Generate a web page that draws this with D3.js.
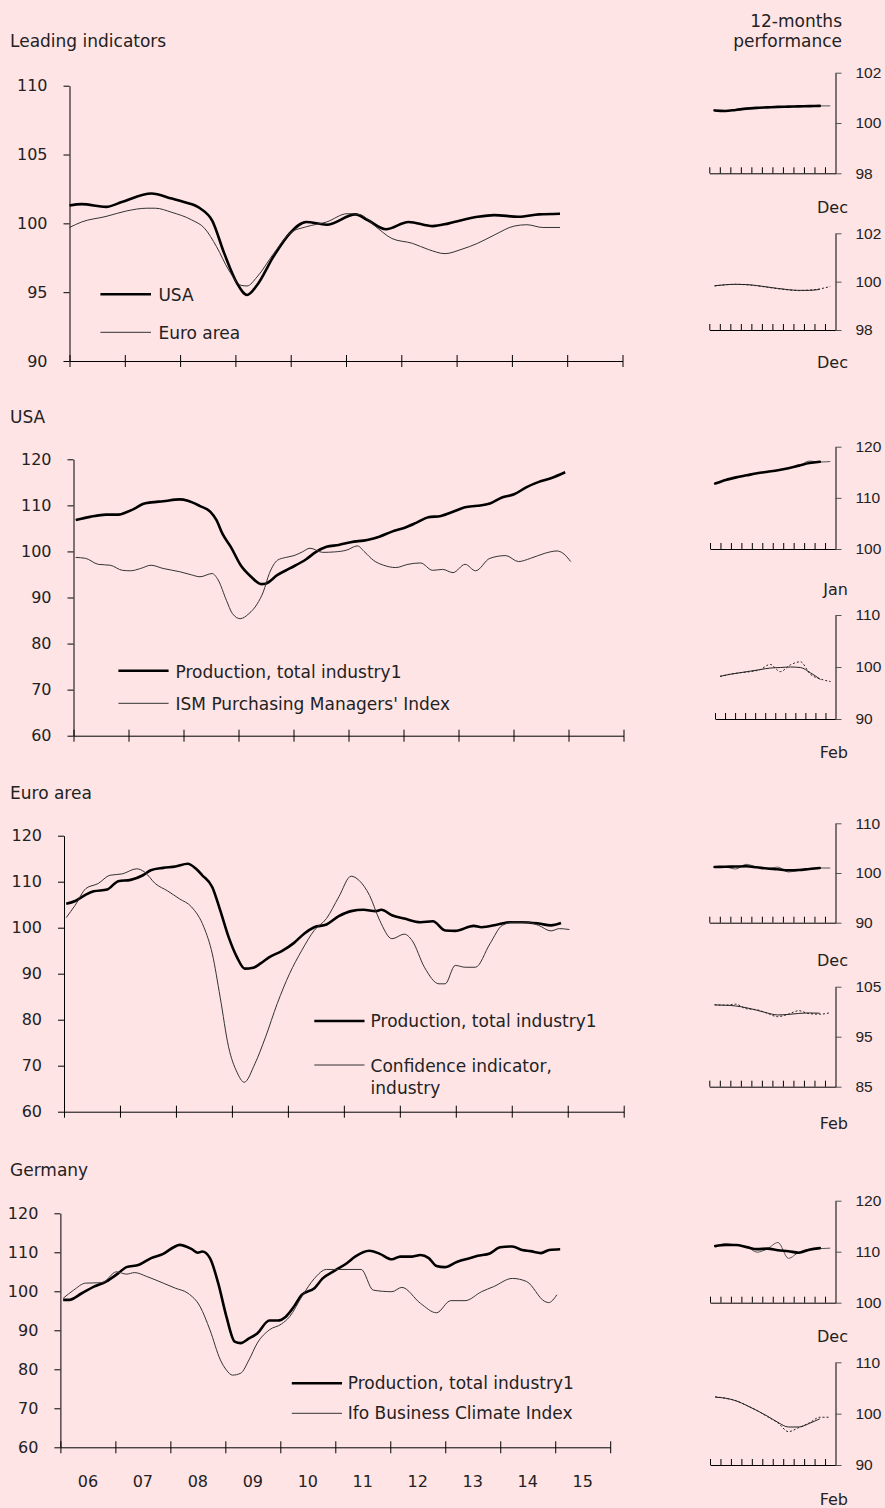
<!DOCTYPE html>
<html><head><meta charset="utf-8">
<script src="https://cdn.jsdelivr.net/npm/d3@7"></script>
<style>
html,body{margin:0;padding:0;background:#ffe4e6;}
svg{display:block;font-family:"DejaVu Sans",sans-serif;}
</style></head><body>
<svg id="chart" width="885" height="1508"></svg>
<script>
// ---------------- DATA (decimal year, index value) ----------------
const yearLabels = ["06","07","08","09","10","11","12","13","14","15"];
const yearTicks = [2006,2007,2008,2009,2010,2011,2012,2013,2014,2015,2016];

const leadUSA = [[2006.00,101.3],[2006.22,101.4],[2006.66,101.2],[2006.96,101.57],[2007.48,102.17],[2007.85,101.8],[2008.07,101.55],[2008.36,101.1],[2008.58,100.2],[2008.80,97.8],[2009.03,95.65],[2009.21,94.8],[2009.39,95.5],[2009.69,97.6],[2009.99,99.3],[2010.28,100.1],[2010.65,99.9],[2011.17,100.65],[2011.39,100.24],[2011.72,99.57],[2012.13,100.1],[2012.57,99.8],[2012.86,100.0],[2013.38,100.48],[2013.68,100.6],[2014.12,100.48],[2014.49,100.65],[2014.87,100.7]];
const leadEuro = [[2006.00,99.7],[2006.22,100.1],[2006.66,100.5],[2007.03,100.9],[2007.40,101.1],[2007.55,101.1],[2007.85,100.8],[2008.21,100.25],[2008.44,99.65],[2008.66,98.3],[2008.88,96.6],[2009.10,95.5],[2009.21,95.45],[2009.39,96.1],[2009.69,97.8],[2009.99,99.3],[2010.28,99.75],[2010.65,100.1],[2011.02,100.7],[2011.24,100.65],[2011.54,99.75],[2011.83,98.9],[2012.20,98.55],[2012.49,98.1],[2012.79,97.8],[2013.08,98.1],[2013.38,98.55],[2013.68,99.15],[2014.04,99.8],[2014.27,99.9],[2014.56,99.7],[2014.87,99.7]];

const usaProd = [[2006.04,106.8],[2006.30,107.5],[2006.59,108.0],[2006.82,108.0],[2006.96,108.5],[2007.11,109.3],[2007.26,110.3],[2007.41,110.65],[2007.63,110.9],[2007.93,111.3],[2008.08,111.0],[2008.30,109.85],[2008.49,108.6],[2008.60,106.8],[2008.71,103.8],[2008.86,101.0],[2009.04,97.0],[2009.23,94.5],[2009.41,92.9],[2009.49,93.0],[2009.71,94.9],[2009.93,96.3],[2010.23,98.3],[2010.41,99.9],[2010.60,101.0],[2010.82,101.4],[2011.04,102.0],[2011.34,102.5],[2011.56,103.2],[2011.79,104.3],[2012.01,105.1],[2012.23,106.2],[2012.45,107.4],[2012.68,107.7],[2012.90,108.6],[2013.12,109.6],[2013.34,109.9],[2013.57,110.4],[2013.79,111.7],[2014.01,112.4],[2014.23,113.9],[2014.46,115.1],[2014.68,115.9],[2014.94,117.2]];
const usaISM = [[2006.04,98.7],[2006.22,98.5],[2006.45,97.2],[2006.67,97.0],[2006.89,95.9],[2007.04,95.8],[2007.22,96.3],[2007.41,97.0],[2007.63,96.3],[2007.93,95.6],[2008.15,94.9],[2008.30,94.5],[2008.52,95.2],[2008.63,93.8],[2008.78,89.4],[2008.89,86.5],[2009.03,85.4],[2009.19,86.5],[2009.34,88.6],[2009.45,91.2],[2009.56,95.2],[2009.71,98.1],[2009.86,98.7],[2010.01,99.1],[2010.16,99.9],[2010.30,100.7],[2010.53,99.8],[2010.75,99.9],[2010.97,100.3],[2011.16,101.2],[2011.30,99.8],[2011.45,98.1],[2011.64,97.0],[2011.86,96.5],[2012.08,97.2],[2012.31,97.5],[2012.53,95.9],[2012.71,96.1],[2012.90,95.4],[2013.12,97.2],[2013.31,95.8],[2013.57,98.5],[2013.86,99.1],[2014.09,97.8],[2014.31,98.5],[2014.57,99.6],[2014.79,100.1],[2014.90,99.6],[2015.04,97.8]];

const euroProd = [[2006.04,105.2],[2006.20,105.8],[2006.39,107.2],[2006.53,107.9],[2006.77,108.3],[2006.97,110.1],[2007.19,110.4],[2007.41,111.4],[2007.55,112.5],[2007.77,113.0],[2007.99,113.3],[2008.21,113.9],[2008.36,112.8],[2008.47,111.4],[2008.65,108.8],[2008.79,103.8],[2008.94,98.0],[2009.09,93.6],[2009.23,91.1],[2009.38,91.3],[2009.52,92.3],[2009.67,93.6],[2009.89,94.9],[2010.11,96.7],[2010.29,98.7],[2010.47,100.1],[2010.69,100.7],[2010.91,102.5],[2011.13,103.6],[2011.35,103.9],[2011.57,103.6],[2011.67,103.9],[2011.86,102.7],[2012.08,102.0],[2012.37,101.2],[2012.59,101.4],[2012.81,99.4],[2012.99,99.3],[2013.32,100.4],[2013.46,100.1],[2013.75,100.7],[2013.97,101.2],[2014.19,101.2],[2014.48,100.9],[2014.70,100.5],[2014.88,101.0]];
const euroConf = [[2006.04,102.2],[2006.20,104.9],[2006.39,108.5],[2006.61,109.6],[2006.82,111.4],[2007.04,111.7],[2007.30,112.8],[2007.44,112.1],[2007.63,109.6],[2007.85,108.0],[2008.06,106.3],[2008.28,104.5],[2008.50,100.1],[2008.65,94.3],[2008.79,84.9],[2008.94,74.1],[2009.09,68.6],[2009.22,66.4],[2009.41,70.4],[2009.60,76.2],[2009.81,83.5],[2010.03,90.0],[2010.25,95.1],[2010.47,99.4],[2010.69,102.0],[2010.91,106.7],[2011.13,111.2],[2011.27,110.3],[2011.46,107.0],[2011.64,101.6],[2011.86,97.6],[2012.08,98.6],[2012.22,97.2],[2012.44,91.4],[2012.70,87.8],[2012.81,87.8],[2012.99,91.8],[2013.17,91.4],[2013.35,91.4],[2013.61,96.5],[2013.83,100.5],[2014.05,101.2],[2014.26,101.2],[2014.48,100.5],[2014.70,99.3],[2014.85,99.8],[2015.03,99.6]];

const gerProd = [[2006.05,97.8],[2006.16,97.8],[2006.39,99.5],[2006.61,101.2],[2006.83,102.5],[2007.05,104.6],[2007.20,106.2],[2007.43,106.8],[2007.65,108.5],[2007.87,109.6],[2008.06,111.3],[2008.17,111.9],[2008.39,110.8],[2008.50,109.9],[2008.58,110.2],[2008.72,108.5],[2008.87,102.1],[2009.02,93.5],[2009.17,87.1],[2009.28,86.7],[2009.43,87.9],[2009.58,89.2],[2009.80,92.5],[2009.95,92.5],[2010.10,93.5],[2010.25,96.1],[2010.39,99.1],[2010.62,100.8],[2010.77,103.3],[2010.99,105.3],[2011.21,107.2],[2011.36,108.9],[2011.62,110.4],[2011.81,109.6],[2012.03,108.2],[2012.18,108.9],[2012.40,108.9],[2012.55,109.3],[2012.70,108.5],[2012.84,106.5],[2012.99,106.2],[2013.22,107.6],[2013.44,108.5],[2013.59,109.1],[2013.81,109.7],[2014.00,111.3],[2014.22,111.5],[2014.40,110.6],[2014.55,110.3],[2014.74,109.8],[2014.89,110.6],[2015.09,110.8]];
const gerIfo = [[2006.05,98.2],[2006.24,100.3],[2006.46,102.1],[2006.76,102.2],[2007.02,105.0],[2007.20,104.4],[2007.35,104.8],[2007.57,103.8],[2007.87,102.1],[2008.09,100.8],[2008.32,99.5],[2008.54,96.1],[2008.72,90.1],[2008.91,82.4],[2009.02,79.8],[2009.13,78.5],[2009.28,79.0],[2009.43,82.4],[2009.58,86.7],[2009.80,90.1],[2010.02,91.6],[2010.17,93.5],[2010.39,98.6],[2010.62,103.3],[2010.84,105.6],[2011.47,105.6],[2011.69,100.3],[2012.03,99.9],[2012.21,101.0],[2012.55,96.9],[2012.84,94.5],[2013.10,97.6],[2013.36,97.6],[2013.66,99.9],[2013.88,101.2],[2014.22,103.3],[2014.48,102.5],[2014.81,97.4],[2014.88,97.1],[2015.03,99.1]];

// 12-months performance panels (12 monthly values; trend has 11)
const sp1Trend  = [100.50,100.48,100.52,100.57,100.60,100.62,100.64,100.65,100.66,100.67,100.68];
const sp1Actual = [100.50,100.48,100.52,100.57,100.60,100.62,100.64,100.65,100.66,100.67,100.68,100.68];
const sp2Trend  = [99.83,99.87,99.89,99.88,99.84,99.78,99.72,99.67,99.64,99.64,99.68];
const sp2Actual = [99.82,99.87,99.89,99.87,99.83,99.77,99.71,99.66,99.63,99.65,99.70,99.80];
const sp3Trend  = [112.8,113.5,114.0,114.4,114.8,115.1,115.4,115.8,116.3,116.8,117.05];
const sp3Actual = [112.8,113.5,114.0,114.4,114.8,115.1,115.4,115.8,116.2,117.2,117.0,117.1];
const sp4Trend  = [98.2,98.6,98.9,99.2,99.5,99.8,99.9,100.0,99.9,98.9,97.6];
const sp4Actual = [98.2,98.6,98.9,99.1,99.5,100.5,99.1,100.4,101.0,98.6,97.7,97.2];
const sp5Trend  = [101.2,101.25,101.3,101.35,101.15,100.9,100.75,100.55,100.6,100.8,101.0];
const sp5Actual = [101.2,101.2,100.8,101.75,101.2,100.9,101.2,100.2,100.5,100.9,101.0,101.0];
const sp6Trend  = [101.35,101.3,101.15,100.8,100.3,99.75,99.35,99.45,99.65,99.75,99.7];
const sp6Actual = [101.4,101.3,101.5,100.6,100.4,99.7,99.0,99.5,100.2,99.6,99.5,99.8];
const sp7Trend  = [111.1,111.3,111.3,110.9,110.5,110.6,110.3,110.1,109.8,110.4,110.7];
const sp7Actual = [111.0,111.6,111.3,111.0,109.9,110.6,111.8,108.7,109.9,110.5,110.6,110.7];
const sp8Trend  = [103.2,103.0,102.5,101.6,100.6,99.5,98.3,97.4,97.4,98.1,99.0];
const sp8Actual = [103.3,103.0,102.5,101.6,100.6,99.4,98.2,96.5,97.3,98.2,99.3,99.3];

// ---------------- DRAWING ----------------
const BG = "#ffe4e6", TXT = "#222";
const svg = d3.select("#chart");
svg.append("rect").attr("width",885).attr("height",1508).attr("fill",BG);

function styleAxis(a, fs, fam){
  a.attr("font-family",fam||"DejaVu Sans, sans-serif").attr("font-size",fs);
  a.selectAll("path.domain").attr("stroke","#000").attr("stroke-width",1);
  a.selectAll(".tick line").attr("stroke","#000").attr("stroke-width",1);
  a.selectAll(".tick text").attr("fill",TXT);
}

function text(x,y,s,opt={}){
  return svg.append("text").attr("x",x).attr("y",y).attr("fill",TXT)
    .attr("font-size",opt.size||17).attr("text-anchor",opt.anchor||"start").text(s);
}

function mainPanel(c){
  const x = d3.scaleLinear().domain([2006,2016]).range([c.x0,c.x1]);
  const y = d3.scaleLinear().domain(c.domain).range([c.yBot,c.yTop]);
  text(10,c.titleY,c.title);
  const ya = svg.append("g").attr("transform",`translate(${c.x0},0)`)
    .call(d3.axisLeft(y).tickValues(c.ticks).tickSize(6).tickSizeOuter(0).tickPadding(16).tickFormat(d3.format("d")));
  styleAxis(ya,16);
  const xa = svg.append("g").attr("transform",`translate(0,${c.yBot})`)
    .call(d3.axisBottom(x).tickValues(yearTicks).tickSize(6).tickSizeOuter(0).tickFormat(""));
  styleAxis(xa,16);
  xa.selectAll(".tick line").attr("y1",-6).attr("y2",6);
  const line = d3.line().x(d=>x(d[0])).y(d=>y(d[1])).curve(d3.curveMonotoneX);
  c.series.forEach(s=>{
    svg.append("path").datum(s.data).attr("d",line).attr("fill","none")
      .attr("stroke",s.thick?"#000":"#333").attr("stroke-width",s.thick?2.6:1)
      .attr("stroke-linejoin","round");
  });
  c.legend.forEach((l,i)=>{
    svg.append("line").attr("x1",c.lx0).attr("x2",c.lx1).attr("y1",l.ly).attr("y2",l.ly)
      .attr("stroke",c.series[i].thick?"#000":"#333").attr("stroke-width",c.series[i].thick?2.6:1);
    l.lines.forEach((t,j)=>text(c.tx,l.ty+j*22.3,t));
  });
  if(c.yearLabels){
    yearLabels.forEach((lab,i)=>text(x(yearTicks[i]+0.5),c.yearY,lab,{anchor:"middle",size:16}));
  }
}

mainPanel({title:"Leading indicators",titleY:47,x0:69.5,x1:622.5,yTop:85.7,yBot:361,domain:[90,110],ticks:[90,95,100,105,110],
  series:[{data:leadUSA,thick:true},{data:leadEuro}],
  lx0:100.4,lx1:151,tx:158.4,legend:[{ly:294.3,ty:301,lines:["USA"]},{ly:332.3,ty:339.3,lines:["Euro area"]}]});
mainPanel({title:"USA",titleY:422.7,x0:73.5,x1:623.5,yTop:459.3,yBot:735.7,domain:[60,120],ticks:[60,70,80,90,100,110,120],
  series:[{data:usaProd,thick:true},{data:usaISM}],
  lx0:118.4,lx1:168.6,tx:175.5,legend:[{ly:670.7,ty:677.7,lines:["Production, total industry1"]},{ly:703.3,ty:710,lines:["ISM Purchasing Managers' Index"]}]});
mainPanel({title:"Euro area",titleY:799,x0:64,x1:623.7,yTop:835.7,yBot:1111.7,domain:[60,120],ticks:[60,70,80,90,100,110,120],
  series:[{data:euroProd,thick:true},{data:euroConf}],
  lx0:314.3,lx1:364.5,tx:370.6,legend:[{ly:1021,ty:1027.3,lines:["Production, total industry1"]},{ly:1065,ty:1071.7,lines:["Confidence indicator,","industry"]}]});
mainPanel({title:"Germany",titleY:1176,x0:60.4,x1:610.2,yTop:1213.3,yBot:1447.3,domain:[60,120],ticks:[60,70,80,90,100,110,120],
  series:[{data:gerProd,thick:true},{data:gerIfo}],
  lx0:291.8,lx1:342,tx:347.8,legend:[{ly:1383.3,ty:1389.3,lines:["Production, total industry1"]},{ly:1413.3,ty:1419.3,lines:["Ifo Business Climate Index"]}],
  yearLabels:true,yearY:1487});

// header of right column
text(842,26.5,"12-months",{anchor:"end"});
text(842,47,"performance",{anchor:"end"});

function smallPanel(c){
  const xR = 835.5;
  const x = d3.scaleLinear().domain([0,12]).range([c.x0,xR]);
  const y = d3.scaleLinear().domain(c.domain).range([c.yBot,c.yTop]);
  const xa = svg.append("g").attr("transform",`translate(0,${c.yBot})`)
    .call(d3.axisTop(x).tickValues(d3.range(0,12)).tickSize(6).tickSizeOuter(0).tickFormat(""));
  styleAxis(xa,16);
  const ya = svg.append("g").attr("transform",`translate(${xR},0)`)
    .call(d3.axisRight(y).tickValues([c.domain[0],(c.domain[0]+c.domain[1])/2,c.domain[1]]).tickSize(6).tickSizeOuter(0).tickPadding(14).tickFormat(d3.format("d")));
  styleAxis(ya,15.5,"Liberation Sans, Arial, sans-serif");
  ya.selectAll(".tick line").attr("stroke","#555");
  const line = d3.line().x((d,i)=>x(i+0.5)).y(d=>y(d)).curve(d3.curveMonotoneX);
  if(c.kind==="prod"){
    svg.append("path").datum(c.actual).attr("d",line).attr("fill","none").attr("stroke","#555").attr("stroke-width",1);
    svg.append("path").datum(c.trend).attr("d",line).attr("fill","none").attr("stroke","#000").attr("stroke-width",2.6).attr("stroke-linecap","round");
  } else {
    svg.append("path").datum(c.trend).attr("d",line).attr("fill","none").attr("stroke","#222").attr("stroke-width",1);
    svg.append("path").datum(c.actual).attr("d",line).attr("fill","none").attr("stroke","#222").attr("stroke-width",1).attr("stroke-dasharray","2,2");
  }
  text(848,c.labelY,c.month,{anchor:"end",size:16});
}

smallPanel({x0:709.3,yTop:72.7,yBot:173.3,domain:[98,102],trend:sp1Trend,actual:sp1Actual,kind:"prod",month:"Dec",labelY:213});
smallPanel({x0:709.3,yTop:233.3,yBot:330,domain:[98,102],trend:sp2Trend,actual:sp2Actual,kind:"survey",month:"Dec",labelY:368});
smallPanel({x0:710,yTop:446.7,yBot:549,domain:[100,120],trend:sp3Trend,actual:sp3Actual,kind:"prod",month:"Jan",labelY:595});
smallPanel({x0:715,yTop:615,yBot:719,domain:[90,110],trend:sp4Trend,actual:sp4Actual,kind:"survey",month:"Feb",labelY:758});
smallPanel({x0:709.3,yTop:823.3,yBot:922.7,domain:[90,110],trend:sp5Trend,actual:sp5Actual,kind:"prod",month:"Dec",labelY:966});
smallPanel({x0:709.3,yTop:986.7,yBot:1086.7,domain:[85,105],trend:sp6Trend,actual:sp6Actual,kind:"survey",month:"Feb",labelY:1129});
smallPanel({x0:710,yTop:1200.7,yBot:1302.7,domain:[100,120],trend:sp7Trend,actual:sp7Actual,kind:"prod",month:"Dec",labelY:1342});
smallPanel({x0:710,yTop:1362.3,yBot:1465,domain:[90,110],trend:sp8Trend,actual:sp8Actual,kind:"survey",month:"Feb",labelY:1505});
</script>
</body></html>
